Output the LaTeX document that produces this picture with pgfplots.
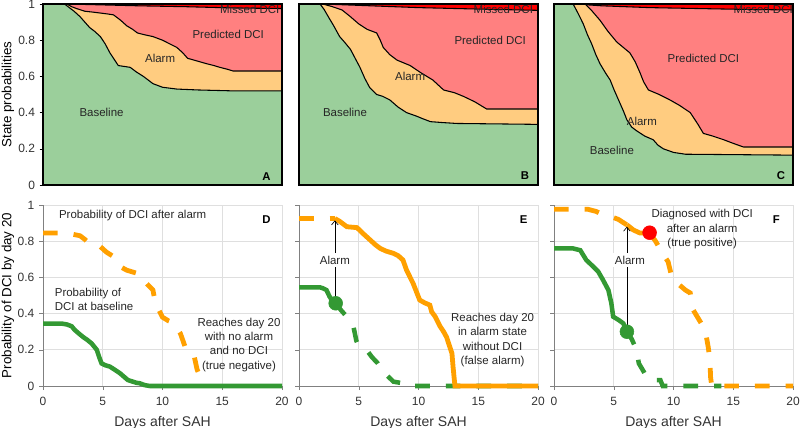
\documentclass[border=0pt]{standalone}
\usepackage{pgfplots}
\pgfplotsset{compat=1.18}
\usepackage{fontspec}
\setmainfont{Liberation Sans}
\usetikzlibrary{arrows.meta}
\definecolor{cbase}{RGB}{155,207,155}
\definecolor{calarm}{RGB}{255,204,128}
\definecolor{cpred}{RGB}{255,128,128}
\definecolor{cmiss}{RGB}{255,0,0}
\definecolor{lgreen}{RGB}{51,153,51}
\definecolor{lorange}{RGB}{255,160,0}
\tikzset{
  ann/.style={font=\fontsize{8.6}{10.8}\selectfont, text=black!85},
  lett/.style={font=\fontsize{8.5}{10}\selectfont\bfseries, text=black},
  gl/.style={lgreen, line width=3.4pt},
  ol/.style={lorange, line width=3.6pt},
  dsh/.style={dash pattern=on 11pt off 12pt},
}
\pgfplotsset{
  common/.style={scale only axis, width=179.25pt, height=135.75pt, anchor=south west,
    xmin=0, xmax=20, ymin=0, ymax=1,
    /pgf/number format/assume math mode=true,
    tick label style={font=\fontsize{9}{10}\selectfont, text=black!80},
    label style={font=\fontsize{10.5}{12}\selectfont, text=black!80},
    every axis y label/.style={at={(axis description cs:0,0.5)}, rotate=90, anchor=center, yshift=26.25pt},
    ytick={0,0.2,0.4,0.6,0.8,1}, ytick pos=left},
  topaxis/.style={common, axis on top, xtick=\empty, tick align=outside, major tick length=2.5pt,
    axis line style={black, line width=0.8pt}, tick style={black}},
  botaxis/.style={common, axis lines=left, axis line style={-, gray, line width=0.6pt},
    xtick={0,5,10,15,20}, grid=major, grid style={gray!25, line width=0.5pt},
    tick align=outside, major tick length=3pt, tick style={gray}, clip=false,
    xlabel={Days after SAH},
    xticklabel style={yshift=-2pt}, every axis x label/.append style={yshift=-1pt}},
  bnd/.style={sharp plot, draw=black, line width=0.8pt},
}
\begin{document}
\begin{tikzpicture}
\useasboundingbox (0,0) rectangle (600pt,-321pt);
% ---------------- A ----------------
\begin{axis}[topaxis, at={(32.25pt,-138.75pt)}, ylabel={State probabilities}]
\addplot[fill=cmiss, draw=none] coordinates {(0,1)(20,1)} \closedcycle;
\addplot[bnd, fill=cpred] coordinates {(0,1)(2,1)(5,0.995)(8,0.99)(12,0.985)(16,0.978)(20,0.975)} \closedcycle;
\addplot[bnd, fill=calarm] coordinates {(0,1)(2.0,1)(2.4,0.985)(2.8,0.975)(3.5,0.96)(4.2,0.955)(4.8,0.95)(5.4,0.945)(5.9,0.94)(6.5,0.91)(7.0,0.88)(7.5,0.86)(7.9,0.84)(8.5,0.83)(9.2,0.82)(9.6,0.81)(10.0,0.80)(10.6,0.78)(11.2,0.76)(11.7,0.73)(12.1,0.70)(12.9,0.685)(13.7,0.67)(14.3,0.66)(14.8,0.65)(15.4,0.64)(15.9,0.63)(20,0.63)} \closedcycle;
\addplot[bnd, fill=cbase] coordinates {(0,1)(1.8,1)(2.2,0.98)(2.6,0.96)(3.1,0.93)(3.5,0.9)(3.9,0.87)(4.3,0.85)(4.8,0.82)(5.2,0.78)(5.6,0.73)(6.0,0.69)(6.3,0.66)(6.8,0.655)(7.3,0.65)(7.8,0.625)(8.4,0.60)(8.8,0.58)(9.2,0.56)(9.6,0.55)(10.0,0.54)(10.6,0.535)(11.2,0.53)(13,0.525)(15.9,0.52)(20,0.52)} \closedcycle;
\node[ann] at (axis cs:15.5,0.83) {Predicted DCI};
\node[ann] at (axis cs:9.8,0.70) {Alarm};
\node[ann] at (axis cs:4.9,0.40) {Baseline};
\node[lett] at (axis cs:18.7,0.045) {A};
\begin{scope}\clip (rel axis cs:0,0) rectangle (rel axis cs:1,1);
\node[ann] at (axis cs:17.3,0.972) {Missed DCI};
\end{scope}
\end{axis}
% ---------------- B ----------------
\begin{axis}[topaxis, at={(224.25pt,-138.75pt)}, ytick=\empty]
\addplot[fill=cmiss, draw=none] coordinates {(0,1)(20,1)} \closedcycle;
\addplot[bnd, fill=cpred] coordinates {(0,1)(2,1)(6,0.99)(10,0.98)(15,0.972)(20,0.965)} \closedcycle;
\addplot[bnd, fill=calarm] coordinates {(0,1)(2.0,1)(2.8,0.985)(3.6,0.967)(4.3,0.93)(5.0,0.89)(5.7,0.86)(6.5,0.84)(6.8,0.80)(7.05,0.76)(7.6,0.72)(8.2,0.69)(9.3,0.66)(10.2,0.62)(11.2,0.58)(12.1,0.525)(13.0,0.51)(13.75,0.49)(14.7,0.46)(15.7,0.42)(20,0.42)} \closedcycle;
\addplot[bnd, fill=cbase] coordinates {(0,1)(1.76,1)(2.1,0.97)(2.45,0.93)(2.9,0.88)(3.4,0.82)(3.8,0.79)(4.3,0.75)(4.7,0.70)(5.1,0.65)(5.5,0.59)(5.9,0.54)(6.5,0.50)(7.0,0.49)(7.6,0.47)(8.3,0.43)(9.0,0.40)(9.85,0.38)(10.4,0.365)(11.0,0.35)(12,0.345)(13.2,0.34)(20,0.335)} \closedcycle;
\node[ann] at (axis cs:16.0,0.80) {Predicted DCI};
\node[ann] at (axis cs:9.3,0.60) {Alarm};
\node[ann] at (axis cs:3.85,0.40) {Baseline};
\node[lett] at (axis cs:18.9,0.05) {B};
\begin{scope}\clip (rel axis cs:0,0) rectangle (rel axis cs:1,1);
\node[ann] at (axis cs:17.1,0.972) {Missed DCI};
\end{scope}
\end{axis}
% ---------------- C ----------------
\begin{axis}[topaxis, at={(415.5pt,-138.75pt)}, ytick=\empty]
\addplot[fill=cmiss, draw=none] coordinates {(0,1)(20,1)} \closedcycle;
\addplot[bnd, fill=cpred] coordinates {(0,1)(1.7,1)(4,0.99)(8,0.98)(12,0.975)(16,0.97)(20,0.967)} \closedcycle;
\addplot[bnd, fill=calarm] coordinates {(0,1)(2.6,1)(3.2,0.96)(3.85,0.91)(4.5,0.85)(5.25,0.79)(5.8,0.76)(6.35,0.73)(6.8,0.68)(7.2,0.62)(7.5,0.57)(7.9,0.525)(8.8,0.50)(9.7,0.47)(10.5,0.44)(11.4,0.40)(12.0,0.34)(12.5,0.285)(13.3,0.27)(14.2,0.25)(15.0,0.23)(15.85,0.21)(20,0.21)} \closedcycle;
\addplot[bnd, fill=cbase] coordinates {(0,1)(1.6,1)(2.0,0.95)(2.45,0.89)(2.8,0.83)(3.15,0.78)(3.5,0.72)(3.85,0.67)(4.3,0.62)(4.7,0.58)(5.0,0.53)(5.4,0.47)(5.8,0.41)(6.1,0.36)(6.5,0.32)(6.9,0.30)(7.6,0.27)(8.3,0.25)(8.7,0.22)(9.15,0.20)(10,0.18)(11.0,0.17)(20,0.165)} \closedcycle;
\node[ann] at (axis cs:12.5,0.70) {Predicted DCI};
\node[ann] at (axis cs:7.35,0.35) {Alarm};
\node[ann] at (axis cs:4.85,0.19) {Baseline};
\node[lett] at (axis cs:19.0,0.05) {C};
\begin{scope}\clip (rel axis cs:0,0) rectangle (rel axis cs:1,1);
\node[ann] at (axis cs:17.5,0.972) {Missed DCI};
\end{scope}
\end{axis}
% ---------------- D ----------------
\begin{axis}[botaxis, at={(32.25pt,-289.5pt)}, ylabel={Probability of DCI by day 20}]
\addplot[ol, dsh] coordinates {(0,0.845)(2.0,0.845)(3.1,0.83)(3.5,0.81)(4.0,0.78)(4.8,0.77)(5.3,0.74)(5.9,0.715)(6.45,0.66)(7.0,0.64)(7.5,0.63)(8.0,0.62)(8.4,0.585)(9.2,0.53)(9.4,0.46)(10.0,0.38)(10.5,0.36)(10.9,0.35)(11.2,0.32)(11.5,0.29)(11.9,0.215)(12.6,0.18)(12.9,0.09)(13.1,0.06)(13.3,0)};
\addplot[gl] coordinates {(0,0.345)(1.56,0.345)(2.0,0.34)(2.4,0.33)(2.65,0.31)(3.0,0.29)(3.37,0.27)(3.7,0.255)(4.07,0.235)(4.5,0.20)(4.7,0.16)(4.9,0.125)(5.2,0.115)(5.6,0.107)(6.0,0.09)(6.45,0.07)(6.8,0.05)(7.1,0.033)(7.8,0.018)(8.1,0.015)(8.5,0.005)(8.95,0)(20,0)};
\node[ann, anchor=west] at (axis cs:0.95,0.94) {Probability of DCI after alarm};
\node[ann, anchor=west, align=left] at (axis cs:0.6,0.478) {Probability of\\DCI at baseline};
\node[ann, align=center] at (axis cs:16.4,0.228) {Reaches day 20\\with no alarm\\and no DCI\\(true negative)};
\node[lett] at (axis cs:18.7,0.917) {D};
\end{axis}
% ---------------- E ----------------
\begin{axis}[botaxis, at={(224.25pt,-289.5pt)}, yticklabels={}]
\addplot[gl, dsh] coordinates {(3.07,0.457)(3.5,0.42)(4.0,0.383)(4.55,0.33)(4.8,0.25)(4.95,0.227)(5.65,0.20)(6.1,0.16)(6.6,0.125)(7.05,0.08)(7.5,0.05)(7.9,0.024)(8.7,0.015)(9.0,0)(20,0)};
\addplot[gl] coordinates {(0,0.545)(1.76,0.545)(2.0,0.54)(2.3,0.53)(2.55,0.495)(2.8,0.47)(3.07,0.457)};
\addplot[ol, dsh] coordinates {(0,0.925)(3.0,0.925)};
\addplot[ol] coordinates {(3.0,0.925)(3.4,0.91)(4.0,0.88)(4.85,0.875)(5.4,0.84)(5.95,0.807)(6.4,0.78)(6.8,0.76)(7.3,0.745)(7.9,0.733)(8.3,0.72)(8.7,0.696)(9.0,0.64)(9.3,0.60)(9.55,0.567)(10.1,0.475)(10.5,0.46)(10.95,0.447)(11.1,0.41)(11.4,0.383)(11.8,0.33)(12.1,0.30)(12.35,0.27)(12.8,0.18)(12.9,0.1)(13.05,0)(20,0)};
\addplot[only marks, mark=*, mark size=5.2pt, lgreen] coordinates {(3.07,0.457)};
\draw[-{Straight Barb[length=3pt,width=5pt]}, black, line width=0.5pt] (axis cs:3.0,0.49) -- (axis cs:3.0,0.915);
\node[ann, fill=white, inner sep=2pt] at (axis cs:3.0,0.696) {Alarm};
\node[ann, align=center] at (axis cs:16.2,0.254) {Reaches day 20\\in alarm state\\without DCI\\(false alarm)};
\node[lett] at (axis cs:18.8,0.917) {E};
\end{axis}
% ---------------- F ----------------
\begin{axis}[botaxis, at={(415.5pt,-289.5pt)}, yticklabels={}]
\addplot[gl, dsh] coordinates {(6.1,0.30)(6.5,0.26)(6.9,0.2)(7.1,0.125)(7.5,0.08)(7.75,0.05)(8.05,0.033)(8.9,0.033)(9.1,0)(14,0)};
\addplot[gl] coordinates {(0,0.76)(1.6,0.76)(2.2,0.75)(2.7,0.696)(3.15,0.668)(3.7,0.632)(4.1,0.586)(4.55,0.53)(4.8,0.457)(4.95,0.383)(5.4,0.365)(5.8,0.346)(6.1,0.30)};
\addplot[ol, dsh] coordinates {(0,0.976)(2.85,0.976)(3.5,0.965)(4.0,0.95)(5.0,0.93)(5.4,0.92)(6.1,0.89)};
\addplot[ol] coordinates {(6.1,0.89)(6.4,0.875)(6.64,0.862)(7.2,0.845)(8.0,0.845)};
\addplot[ol, dsh] coordinates {(8.0,0.845)(8.5,0.80)(9.0,0.742)(9.55,0.686)(9.85,0.604)(10.5,0.558)(11.0,0.53)(11.4,0.514)(11.65,0.42)(12.05,0.376)(12.65,0.31)(12.9,0.217)(13.05,0.144)(13.1,0.05)(13.2,0)(20,0)};
\addplot[only marks, mark=*, mark size=5.2pt, lgreen] coordinates {(6.1,0.30)};
\addplot[only marks, mark=*, mark size=5.2pt, cmiss] coordinates {(8.0,0.847)};
\draw[-{Straight Barb[length=3pt,width=5pt]}, black, line width=0.5pt] (axis cs:6.1,0.33) -- (axis cs:6.1,0.88);
\node[ann, fill=white, inner sep=2pt] at (axis cs:6.35,0.696) {Alarm};
\node[ann, align=center] at (axis cs:12.4,0.867) {Diagnosed with DCI\\after an alarm\\(true positive)};
\node[lett] at (axis cs:18.6,0.917) {F};
\end{axis}
\end{tikzpicture}
\end{document}
